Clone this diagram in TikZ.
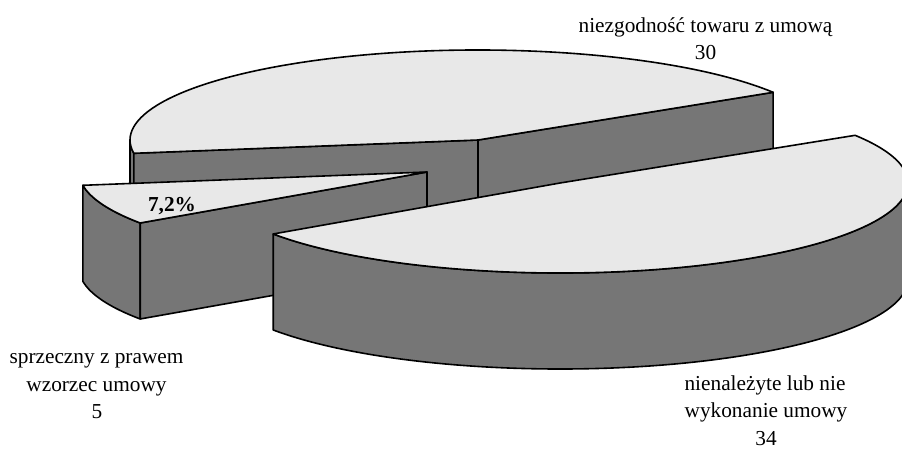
\documentclass[tikz,border=0pt]{standalone}
\usepackage{fontspec}
\setmainfont{Liberation Serif}
\usetikzlibrary{calc}
\definecolor{topface}{HTML}{E8E8E8}
\definecolor{sideface}{HTML}{767676}
\tikzset{
  pieedge/.style={draw=black, line width=1.6pt, line join=round},
  topf/.style={pieedge, fill=topface},
  sidef/.style={pieedge, fill=sideface},
  lbl/.style={font=\fontsize{21.3}{27}\selectfont, anchor=base, inner sep=0pt},
  pct/.style={font=\fontsize{21.3}{27}\selectfont\bfseries, anchor=base, inner sep=0pt},
  ell/.style={x radius=348pt, y radius=90pt}
}
\begin{document}
\begin{tikzpicture}[x=1pt,y=1pt]
\useasboundingbox (0,0) rectangle (902,-448);
\clip (0,0) rectangle (902,-448);
% slice centres
\coordinate (B) at (478,-140);
\coordinate (S) at (427,-172);
\coordinate (G) at (560,-183);
% rim points
\coordinate (B0) at ($(B)+(-348,0)$);
\coordinate (B1) at ($(B)+({348*cos(32)},{90*sin(32)})$);
\coordinate (B2) at ($(B)+({348*cos(188.5)},{90*sin(188.5)})$);
\coordinate (S1) at ($(S)+({348*cos(188.5)},{90*sin(188.5)})$);
\coordinate (S2) at ($(S)+({348*cos(214.5)},{90*sin(214.5)})$);
\coordinate (G1) at ($(G)+({348*cos(214.5)},{90*sin(214.5)})$);
% back slice (niezgodnosc)
\path[sidef] (B0) arc[start angle=180, end angle=188.5, ell] -- ++(0,-96)
  arc[start angle=188.5, end angle=180, ell] -- cycle;
\path[sidef] (B) -- (B2) -- ++(0,-96) -- ($(B)+(0,-96)$) -- cycle;
\path[sidef] (B) -- (B1) -- ++(0,-96) -- ($(B)+(0,-96)$) -- cycle;
\path[topf] (B) -- (B1) arc[start angle=32, end angle=188.5, ell] -- cycle;
% small slice (sprzeczny)
\path[sidef] (S1) arc[start angle=188.5, end angle=214.5, ell] -- ++(0,-96)
  arc[start angle=214.5, end angle=188.5, ell] -- cycle;
\path[sidef] (S) -- (S2) -- ++(0,-96) -- ($(S)+(0,-96)$) -- cycle;
\path[topf] (S) -- (S1) arc[start angle=188.5, end angle=214.5, ell] -- cycle;
% big slice (nienalezyte)
\path[sidef] (G1) arc[start angle=214.5, end angle=360, ell] -- ++(0,-96)
  arc[start angle=360, end angle=214.5, ell] -- cycle;
\path[topf] (G) -- (G1) arc[start angle=214.5, end angle=392, ell] -- cycle;
% labels
\node[pct] (p) at (172,-211) {7,2\%};
\node[lbl] (a1) at (705.5,-32) {niezgodność towaru z umową};
\node[lbl] (a2) at (705.5,-59) {30};
\node[lbl] (b1) at (96.5,-363.5) {sprzeczny z prawem};
\node[lbl] (b2) at (96.5,-391) {wzorzec umowy};
\node[lbl] (b3) at (97,-418.5) {5};
\node[lbl] (c1) at (765,-390) {nienależyte lub nie};
\node[lbl] (c2) at (766,-417) {wykonanie umowy};
\node[lbl] (c3) at (766,-445) {34};
\end{tikzpicture}
\end{document}
